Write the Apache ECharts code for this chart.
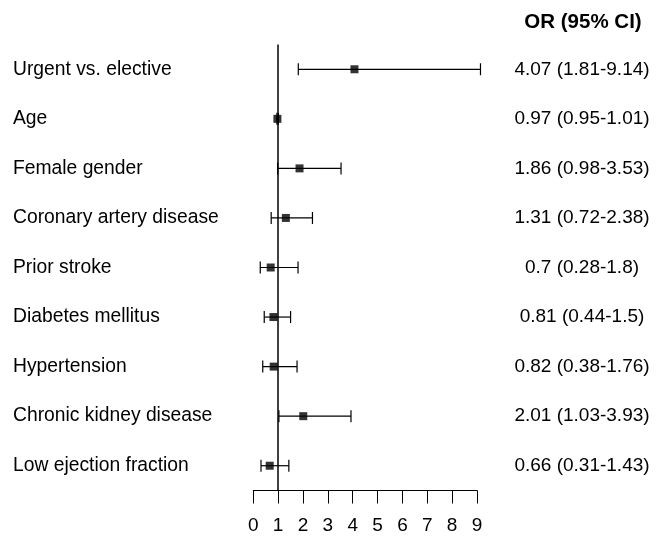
<!DOCTYPE html>
<html>
<head>
<meta charset="utf-8">
<script src="https://cdn.jsdelivr.net/npm/echarts@6/dist/echarts.min.js"></script>
<style>html,body{margin:0;padding:0;background:#fff;}#chart{width:656px;height:536px;}</style>
</head>
<body>
<div id="chart"></div>
<script>
const categories = ["Urgent vs. elective","Age","Female gender","Coronary artery disease","Prior stroke","Diabetes mellitus","Hypertension","Chronic kidney disease","Low ejection fraction"];
const orValues = [4.07, 0.97, 1.86, 1.31, 0.7, 0.81, 0.82, 2.01, 0.66];
const ciLow = [1.81, 0.95, 0.98, 0.72, 0.28, 0.44, 0.38, 1.03, 0.31];
const ciHigh = [9.14, 1.01, 3.53, 2.38, 1.8, 1.5, 1.76, 3.93, 1.43];
const orLabels = ["4.07 (1.81-9.14)","0.97 (0.95-1.01)","1.86 (0.98-3.53)","1.31 (0.72-2.38)","0.7 (0.28-1.8)","0.81 (0.44-1.5)","0.82 (0.38-1.76)","2.01 (1.03-3.93)","0.66 (0.31-1.43)"];
const xTicks = [0,1,2,3,4,5,6,7,8,9];
const headerText = "OR (95% CI)";

const FONT = "Liberation Sans, Arial, sans-serif";
const chart = echarts.init(document.getElementById('chart'));
const errData = categories.map((c, i) => [ciLow[i], ciHigh[i], i]);
const ptData = categories.map((c, i) => [orValues[i], i]);

chart.setOption({
  animation: false,
  backgroundColor: '#fff',
  grid: {left: 253.3, right: 179, top: 44.5, bottom: 45.5, containLabel: false},
  xAxis: {
    type: 'value', min: xTicks[0], max: xTicks[xTicks.length - 1], interval: 1,
    axisLine: {show: true, lineStyle: {color: '#000', width: 1}},
    axisTick: {show: true, length: 13, lineStyle: {color: '#000', width: 1}},
    axisLabel: {color: '#000', fontSize: 19, fontFamily: FONT, margin: 26},
    splitLine: {show: false}
  },
  yAxis: [
    {
      type: 'category', data: categories, inverse: true,
      axisLine: {show: false}, axisTick: {show: false}, splitLine: {show: false},
      axisLabel: {color: '#000', fontSize: 19.3, fontFamily: FONT, align: 'left', margin: 240.3}
    },
    {
      type: 'category', data: orLabels, inverse: true, position: 'right',
      axisLine: {show: false}, axisTick: {show: false}, splitLine: {show: false},
      axisLabel: {color: '#000', fontSize: 19, fontFamily: FONT, align: 'center', margin: 105}
    }
  ],
  graphic: [{
    type: 'text', x: 583, y: 22.5,
    style: {text: headerText, fill: '#000', font: 'bold 20.5px ' + FONT, textAlign: 'center', textVerticalAlign: 'middle'}
  }],
  series: [
    {
      type: 'custom',
      data: errData,
      encode: {x: [0, 1], y: 2},
      renderItem: function (params, api) {
        const a = api.coord([api.value(0), api.value(2)]);
        const b = api.coord([api.value(1), api.value(2)]);
        const h = 6;
        const st = {stroke: '#000', lineWidth: 1.2};
        return {
          type: 'group',
          children: [
            {type: 'line', shape: {x1: a[0], y1: a[1], x2: b[0], y2: b[1]}, style: st},
            {type: 'line', shape: {x1: a[0], y1: a[1] - h, x2: a[0], y2: a[1] + h}, style: st},
            {type: 'line', shape: {x1: b[0], y1: b[1] - h, x2: b[0], y2: b[1] + h}, style: st}
          ]
        };
      },
      z: 3
    },
    {
      type: 'scatter',
      data: ptData,
      symbol: 'rect', symbolSize: 8,
      itemStyle: {color: '#000'},
      z: 5,
      markLine: {
        silent: true, symbol: ['none', 'none'],
        label: {show: false},
        lineStyle: {color: '#000', width: 1.5, type: 'solid'},
        data: [{xAxis: 1}]
      }
    }
  ]
});
</script>
</body>
</html>
